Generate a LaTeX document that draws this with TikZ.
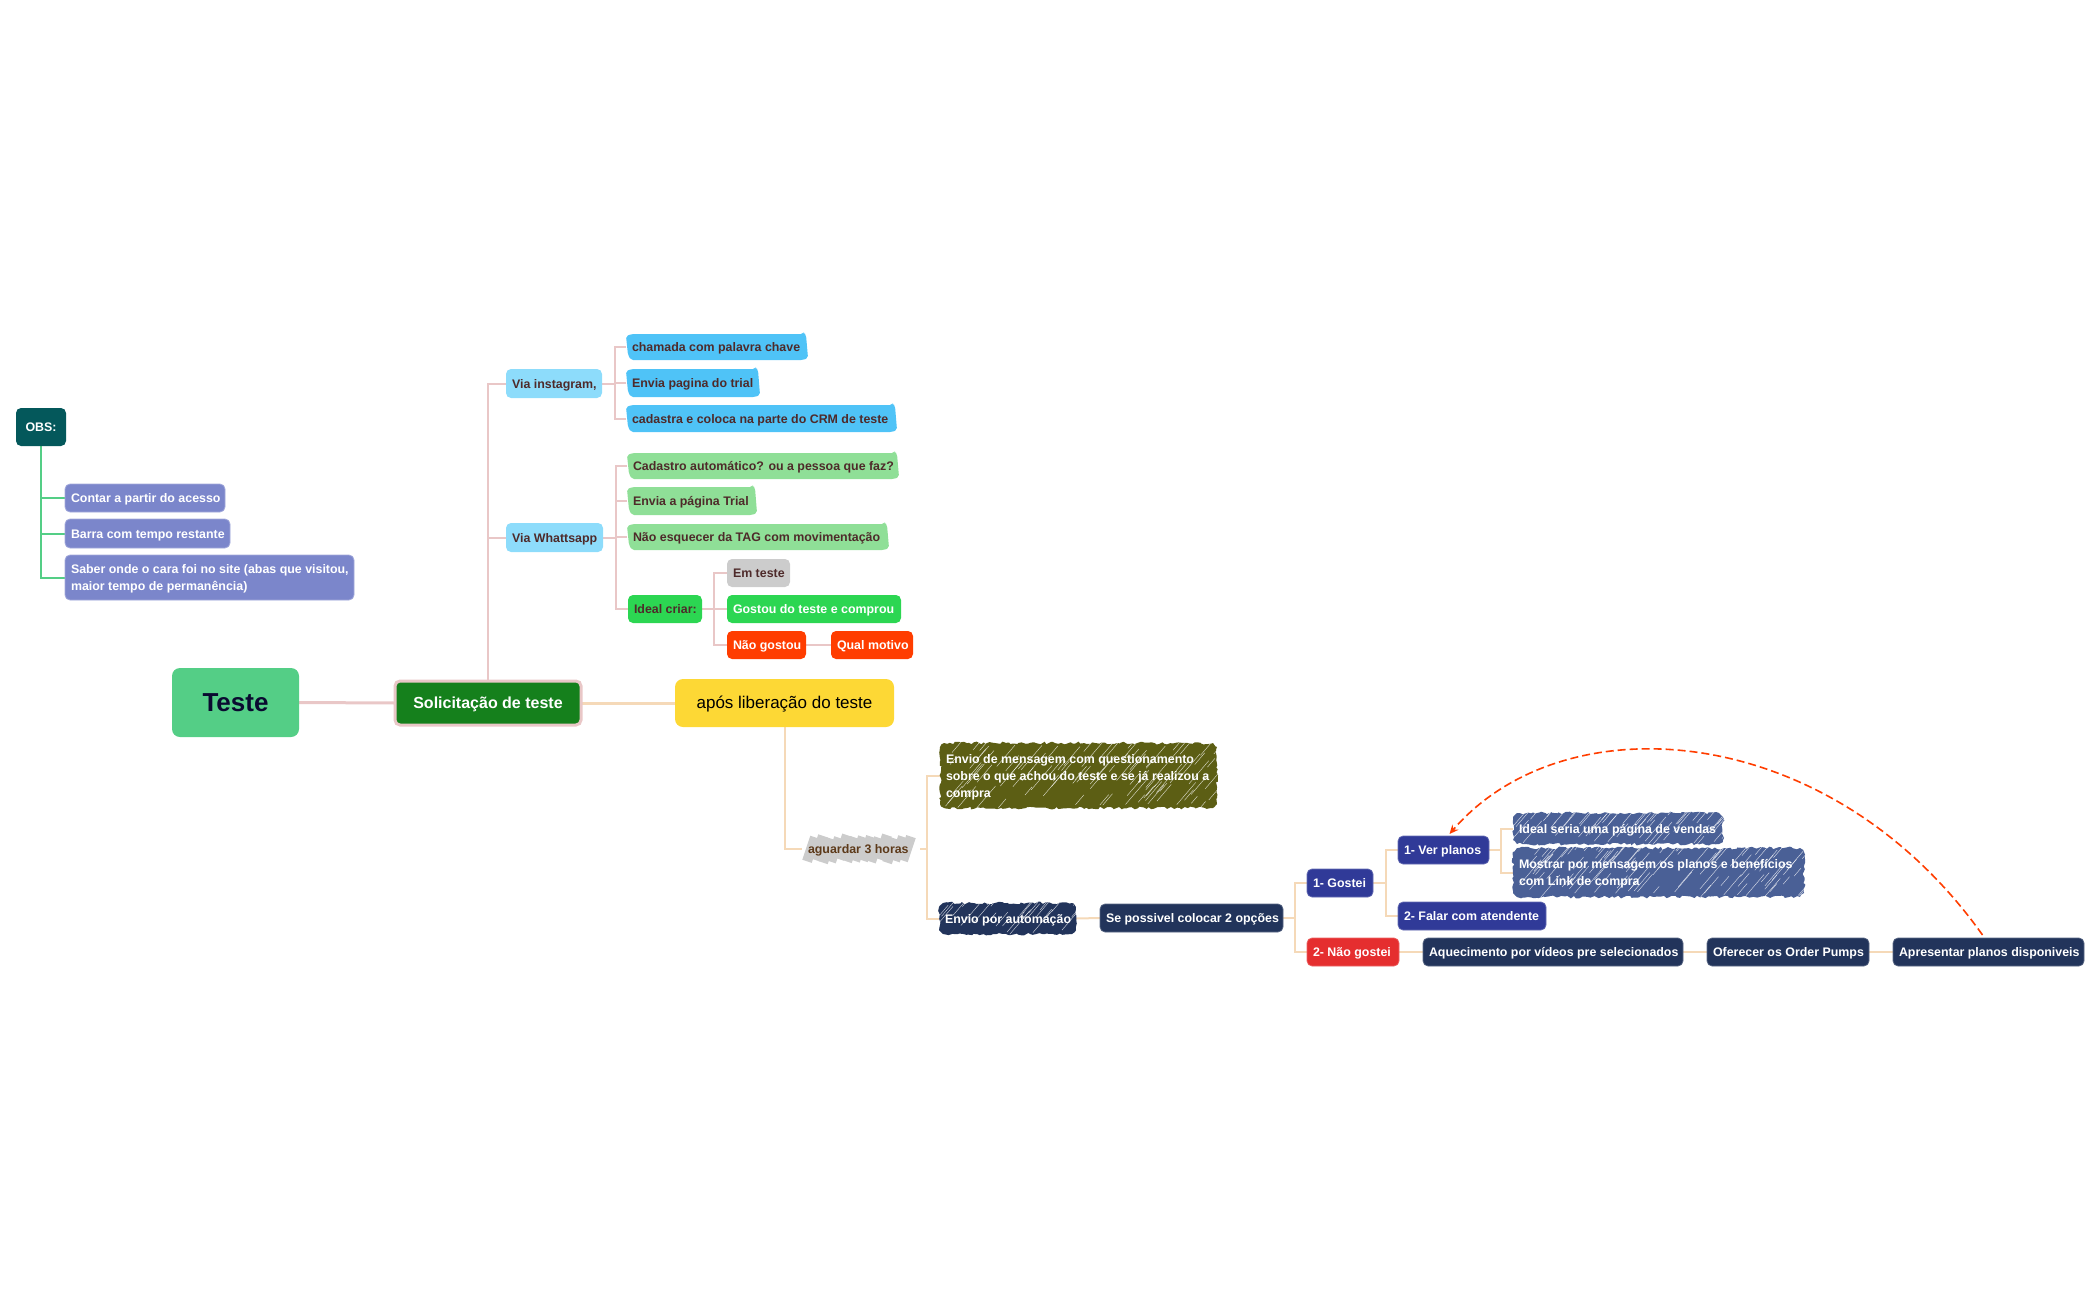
\documentclass[tikz,border=0pt]{standalone}
\usepackage{fontspec}
\setmainfont{Liberation Sans}
\usetikzlibrary{calc,arrows.meta,decorations.pathmorphing,backgrounds}
\definecolor{cObs}{HTML}{04585B}
\definecolor{cPur}{HTML}{7B86CB}
\definecolor{cTeste}{HTML}{54CE86}
\definecolor{cSol}{HTML}{15801C}
\definecolor{cPink}{HTML}{E9C7C7}
\definecolor{cOrg}{HTML}{F5D9B8}
\definecolor{cVia}{HTML}{8DDCFB}
\definecolor{cSky}{HTML}{4FC3F7}
\definecolor{cMint}{HTML}{8FDF97}
\definecolor{cLime}{HTML}{2CD652}
\definecolor{cGray}{HTML}{CCCCCC}
\definecolor{cRedO}{HTML}{FF3D00}
\definecolor{cYel}{HTML}{FDD835}
\definecolor{cOli}{HTML}{5C5E14}
\definecolor{cNavy}{HTML}{22345B}
\definecolor{cInd}{HTML}{303A98}
\definecolor{cRed}{HTML}{E52E2F}
\definecolor{cHat}{HTML}{4A6096}
\definecolor{cTxt}{HTML}{4E2A2A}
\definecolor{cBrn}{HTML}{5D3A1A}
\definecolor{cInk}{HTML}{0A0A30}
\newcommand{\bx}[7]{\node[#6,minimum width={(#4-#2)*1pt},minimum height={(#5-#3)*1pt},text width={(#4-#2-12)*1pt}] (#1) at ({(#2+#4)/2},{(#3+#5)/2}) {\raisebox{-1.3pt}[\height][\depth]{\begin{tabular}{@{}l@{}}#7\end{tabular}}};}
\newcommand{\mk}[2]{\fill[#2,rounded corners=2pt] ($(#1.north west)+(0,2)$) -- ($(#1.north west)+(6,0)$) -- ($(#1.north east)+(-4,0)$) -- ($(#1.north east)+(-3,-1.5)$) -- ($(#1.north east)+(-1,1)$) -- ($(#1.south east)+(1,-2)$) -- ($(#1.south east)+(-4,0)$) -- ($(#1.south west)+(5,0)$) -- ($(#1.south west)+(2,-5)$) -- cycle;}
\newcommand{\rg}[3]{\path[roughfill=#2,hatchp=#3] ($(#1.north west)+(4,0)$) -- ($(#1.north east)+(-4,0)$) -- ($(#1.north east)+(0,4)$) -- ($(#1.south east)+(0,-4)$) -- ($(#1.south east)+(-4,0)$) -- ($(#1.south west)+(4,0)$) -- ($(#1.south west)+(0,-4)$) -- ($(#1.north west)+(0,4)$) -- cycle;}
\tikzset{
 x=1pt,y=-1pt,
 base/.style={inner sep=0pt,outer sep=0pt,align=flush left,font=\fontsize{12.4}{17}\selectfont\bfseries,rounded corners=5pt},
 whiteb/.style={base,text=white},
 darkb/.style={base,text=cTxt},
 center/.style={align=flush center},
 obsbox/.style={whiteb,fill=cObs},
 purbox/.style={whiteb,fill=cPur,draw=cPur!70!white,line width=.8pt},
 viabox/.style={darkb,fill=cVia},
 marker/.style={darkb},
 limebox/.style={darkb,fill=cLime},
 graybox/.style={darkb,fill=cGray},
 limew/.style={whiteb,fill=cLime},
 redbox/.style={whiteb,fill=cRedO},
 navybox/.style={whiteb,fill=cNavy,draw=cNavy!75!white,line width=.7pt},
 indbox/.style={whiteb,fill=cInd,draw=cInd!75!white,line width=.7pt},
 crimson/.style={whiteb,fill=cRed,draw=cRed!75!white,line width=.7pt},
 hatchp/.style={path picture={
   \foreach \i in {1,...,#1}{
     \pgfmathsetmacro\hx{rnd}\pgfmathsetmacro\hy{rnd}\pgfmathsetmacro\hl{8+rnd*26}
     \coordinate (hA) at ($(path picture bounding box.south west)!\hx!(path picture bounding box.south east)$);
     \coordinate (hB) at ($(path picture bounding box.south west)!\hy!(path picture bounding box.north west)$);
     \draw[white,opacity=.75,line width=.45pt] (hA |- hB) -- ++({\hl*.65},{-\hl*.76});
   }}},
 roughtext/.style={whiteb},
 roughfill/.style={fill=#1,decorate,decoration={random steps,segment length=2.8pt,amplitude=1.4pt}},
 torn/.style={base,text=cBrn},
 tornstroke/.style={cGray,line width=10pt},
 conn/.style={line width=2pt,cPink},
 conno/.style={line width=2pt,cOrg},
 conng/.style={line width=2pt,cTeste},
 link/.style={line width=1.6pt,cRedO,dash pattern=on 8pt off 4pt,-{Stealth[length=9pt,width=8pt]}},
}
\begin{document}
\begin{tikzpicture}
\pgfmathsetseed{42}
\useasboundingbox (0,0) rectangle (2100,1300);
% left
\bx{obs}{16}{408}{66}{446}{obsbox,center}{OBS:}
\bx{n1}{65}{484}{225}{512}{purbox}{Contar a partir do acesso}
\bx{n2}{65}{519}{230}{548}{purbox}{Barra com tempo restante}
\bx{n3}{65}{555}{354}{600}{purbox}{Saber onde o cara foi no site (abas que visitou,\\maior tempo de permanência)}
\bx{teste}{172}{668}{299}{737}{base,center,rounded corners=8pt,fill=cTeste,text=cInk,font=\fontsize{26}{30}\selectfont\bfseries}{\raisebox{-1.5pt}[\height][\depth]{Teste}}
\bx{sol}{395}{681}{581}{725}{whiteb,center,fill=cSol,draw=cPink,line width=3pt,font=\fontsize{16}{20}\selectfont\bfseries}{Solicitação de teste}
\bx{apos}{675}{679}{894}{727}{base,center,rounded corners=8pt,fill=cYel,text=black,font=\fontsize{17}{20}\selectfont}{após liberação do teste}
% upper
\bx{via1}{506}{369}{602}{398}{viabox}{Via instagram,}
\bx{via2}{506}{523}{603}{552}{viabox}{Via Whattsapp}
\bx{a1}{626}{334}{807}{360}{marker}{chamada com palavra chave}
\bx{a2}{626}{369}{759}{397}{marker}{Envia pagina do trial}
\bx{a3}{626}{405}{896}{432}{marker}{cadastra e coloca na parte do CRM de teste}
\bx{b1}{627}{453}{898}{479}{marker}{Cadastro automático? ou a pessoa que faz?}
\bx{b2}{627}{487}{756}{515}{marker}{Envia a página Trial}
\bx{b3}{627}{524}{888}{550}{marker}{Não esquecer da TAG com movimentação}
\bx{b4}{628}{595}{702}{623}{limebox}{Ideal criar:}
\bx{c1}{727}{559}{790}{587}{graybox}{Em teste}
\bx{c2}{727}{595}{901}{623}{limew}{Gostou do teste e comprou}
\bx{c3}{727}{631}{806}{659}{redbox}{Não gostou}
\bx{c4}{831}{631}{913}{659}{redbox}{Qual motivo}
% lower
\bx{ag}{802}{833}{920}{865}{torn}{aguardar 3 horas}
\bx{ol}{940}{743}{1217}{808}{roughtext}{Envio de mensagem com questionamento\\sobre o que achou do teste e se já realizou a\\compra}
\bx{au}{939}{903}{1076}{934}{roughtext}{Envio por automação}
\bx{se}{1100}{904}{1283}{932}{navybox}{Se possivel colocar 2 opções}
\bx{g1}{1307}{869}{1373}{897}{indbox}{1- Gostei}
\bx{g2}{1307}{938}{1399}{966}{crimson}{2- Não gostei}
\bx{vp}{1398}{836}{1489}{864}{indbox}{1- Ver planos}
\bx{fa}{1398}{902}{1546}{930}{indbox}{2- Falar com atendente}
\bx{id}{1513}{813}{1723}{844}{roughtext}{Ideal seria uma página de vendas}
\bx{mo}{1513}{848}{1804}{897}{roughtext}{Mostrar por mensagem os planos e benefícios\\com Link de compra}
\bx{aq}{1423}{938}{1683}{966}{navybox}{Aquecimento por vídeos pre selecionados}
\bx{of}{1707}{938}{1869}{966}{navybox}{Oferecer os Order Pumps}
\bx{ap}{1893}{938}{2084}{966}{navybox}{Apresentar planos disponiveis}
\begin{scope}[on background layer]
\draw[conng] (obs.south) |- (n1.west);
\draw[conng] (obs.south) |- (n2.west);
\draw[conng] (obs.south) |- (n3.west);
\draw[conn,line width=3pt] (teste.east) -- (sol.west);
\draw[conn] (sol.north) |- (via1.west);
\draw[conn] (sol.north) |- (via2.west);
\foreach \k in {a1,a2,a3}{\draw[conn] (via1.east) -- ++(13,0) |- (\k.west);}
\foreach \k in {b1,b2,b3,b4}{\draw[conn] (via2.east) -- ++(13,0) |- (\k.west);}
\foreach \k in {c1,c2,c3}{\draw[conn] (b4.east) -- ++(12,0) |- (\k.west);}
\draw[conn] (c3.east) -- (c4.west);
\draw[conno,line width=3pt] (sol.east) -- (apos.west);
\draw[conno] (apos.south) |- (ag.west);
\foreach \k in {ol,au}{\draw[conno] (ag.east) -- ++(7,0) |- (\k.west);}
\draw[conno] (au.east) -- (se.west);
\foreach \k in {g1,g2}{\draw[conno] (se.east) -- ++(12,0) |- (\k.west);}
\foreach \k in {vp,fa}{\draw[conno] (g1.east) -- ++(13,0) |- (\k.west);}
\foreach \k in {id,mo}{\draw[conno] (vp.east) -- ++(12,0) |- (\k.west);}
\draw[conno] (g2.east) -- (aq.west);
\draw[conno] (aq.east) -- (of.west);
\draw[conno] (of.east) -- (ap.west);
\mk{a1}{cSky}\mk{a2}{cSky}\mk{a3}{cSky}
\mk{b1}{cMint}\mk{b2}{cMint}\mk{b3}{cMint}
\rg{ol}{cOli}{100}\rg{au}{cNavy}{30}\rg{id}{cHat}{55}\rg{mo}{cHat}{100}
\foreach \i in {0,8,...,96}{
  \pgfmathsetmacro\oy{rnd*4-2}
  \draw[tornstroke] ($(ag.west)+(\i+5,\oy+12)$) -- ($(ag.west)+(\i+13,\oy-12)$);
}
\end{scope}
\draw[link] ($(ap.north)+(-6,-3)$) .. controls (1830,720) and (1565,700) .. ($(vp.north)+(6,-2)$);
\end{tikzpicture}
\end{document}
